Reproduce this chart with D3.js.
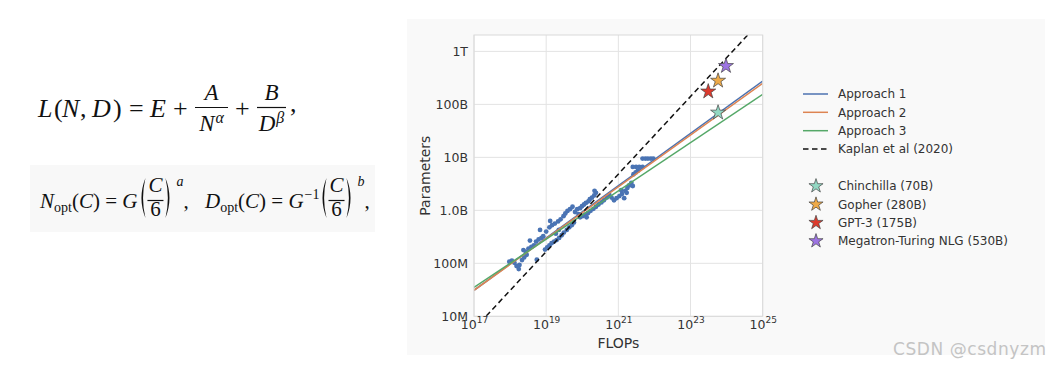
<!DOCTYPE html>
<html><head><meta charset="utf-8">
<script src="https://cdn.jsdelivr.net/npm/d3@7"></script>
<style>html,body{margin:0;padding:0;background:#fff;} svg{display:block;}</style>
</head><body>
<svg id="c" width="1051" height="367"></svg>
<script>
// ---------------- DATA ----------------
const seriesNames = ["Approach 1", "Approach 2", "Approach 3", "Kaplan et al (2020)"];
const lineFlops = [1e17, 1e25];
const approach1Params = [3.1e7, 2.75e11];
const approach2Params = [3.1e7, 2.5e11];
const approach3Params = [3.5e7, 1.55e11];
const kaplanParams = [5.7e6, 4.1e12];

const modelNames = ["Chinchilla (70B)", "Gopher (280B)", "GPT-3 (175B)", "Megatron-Turing NLG (530B)"];
const modelFlops = [5.8e23, 5.8e23, 3.1e23, 9.6e23];
const modelParams = [7.0e10, 2.8e11, 1.75e11, 5.3e11];

const yTickValues = [1e7, 1e8, 1e9, 1e10, 1e11, 1e12];
const yTickLabels = ["10M", "100M", "1.0B", "10B", "100B", "1T"];
const xTickValues = [1e17, 1e19, 1e21, 1e23, 1e25];
const xTickExponents = ["17", "19", "21", "23", "25"];

const scatterFlops = [
  9.5e17, 1.12e18, 1.32e18, 1.51e18, 1.82e18, 2.14e18, 2.45e18, 2.88e18, 1.74e18, 2.34e18,
  2.75e18, 3.24e18, 3.89e18, 4.57e18, 5.5e18, 6.76e18, 1.29e19, 3.55e18, 5.25e18, 6.17e18,
  7.41e18, 8.3e18,
  9.3e18, 1.07e19, 1.23e19, 1.41e19, 1.66e19, 1.95e19, 2.29e19, 2.69e19, 3.09e19, 3.72e19,
  4.37e19, 5.13e19, 5.89e19,
  1.23e19, 1.45e19, 1.74e19, 2.14e19, 2.51e19, 3.02e19, 3.39e19, 3.89e19, 4.57e19, 5.37e19,
  1.0e19, 1.86e19, 2.24e19,
  6.31e19, 7.24e19, 8.7e19, 9.8e19, 1.12e20, 1.26e20, 1.48e20, 1.62e20, 1.86e20, 2.14e20,
  2.4e20, 2.19e20,
  8.7e19, 1.02e20, 1.2e20, 1.45e20, 1.7e20, 2.04e20, 2.4e20, 2.82e20, 3.39e20, 3.98e20,
  4.79e20, 5.62e20, 7.9e19, 1.32e20,
  6.46e20, 7.59e20, 8.9e20, 1.07e21, 1.26e21, 1.45e21, 1.55e21, 1.78e21, 2.0e21, 2.29e21,
  2.51e21, 1.2e21, 1.7e21,
  2.63e21, 3.02e21, 3.47e21, 2.51e21, 3.09e21, 3.8e21, 4.68e21, 4.68e21, 5.62e21, 6.6e21,
  7.94e21, 9.3e21
];
const scatterParams = [
  1.07e8, 1.12e8, 1.02e8, 8.9e7, 9.3e7, 1.15e8, 1.29e8, 1.45e8, 7.8e7, 1.78e8,
  1.66e8, 1.9e8, 2.04e8, 2.19e8, 1.17e8, 4.27e8, 6.3e8, 2.69e8, 2.57e8, 2.82e8,
  3.02e8, 3.24e8,
  1.82e8, 2.0e8, 2.19e8, 2.4e8, 2.57e8, 2.75e8, 3.02e8, 3.39e8, 3.8e8, 4.27e8,
  4.79e8, 5.25e8, 5.89e8,
  4.79e8, 5.25e8, 5.62e8, 6.17e8, 6.76e8, 7.76e8, 8.71e8, 9.77e8, 1.05e9, 1.17e9,
  3.98e8, 3.63e8, 4.27e8,
  9.3e8, 1.05e9, 1.1e9, 1.2e9, 1.29e9, 1.38e9, 1.48e9, 1.62e9, 1.74e9, 1.91e9,
  2.14e9, 2.34e9,
  7.4e8, 7.76e8, 8.3e8, 8.9e8, 9.8e8, 1.07e9, 1.17e9, 1.29e9, 1.41e9, 1.55e9,
  1.74e9, 1.95e9, 8.5e8, 7.4e8,
  1.74e9, 1.55e9, 1.7e9, 1.86e9, 2.04e9, 1.7e9, 2.34e9, 2.63e9, 2.95e9, 3.31e9,
  2.88e9, 2.4e9, 2.14e9,
  4.8e9, 5.2e9, 5.6e9, 6.6e9, 6.6e9, 6.6e9, 6.6e9, 9.5e9, 9.5e9, 9.5e9,
  9.5e9, 9.5e9
];

const lineColors = ["#4c72b0", "#dd8452", "#55a868", "#111111"];
const starColors = ["#92d8c3", "#eeaa48", "#dc3a2d", "#9d74e3"];

// ---------------- DRAW ----------------
const svg = d3.select("#c");
const SERIF = "'Liberation Serif', 'DejaVu Serif', serif";
const SANS = "'DejaVu Sans', sans-serif";

// light panels
svg.append("rect").attr("x", 407).attr("y", 19).attr("width", 638).attr("height", 336).attr("fill", "#f9f9f9");
svg.append("rect").attr("x", 30).attr("y", 165).attr("width", 345).attr("height", 67).attr("fill", "#f8f8f8");

// ---- formulas ----
const fg = svg.append("g");
function rich(g, x, y, pieces, fs, anchor) {
  const t = g.append("text").attr("x", x).attr("y", y).attr("font-size", fs)
    .attr("font-family", SERIF).attr("fill", "#111").attr("text-anchor", anchor || "start");
  let cur = 0;
  pieces.forEach(p => {
    const s = t.append("tspan").text(p.t);
    if (p.it) s.attr("font-style", "italic");
    if (p.fs) s.attr("font-size", p.fs);
    const off = p.off || 0;
    if (off !== cur) { s.attr("dy", off - cur); cur = off; }
    if (p.dx) s.attr("dx", p.dx);
  });
  return t;
}
const W = t => t.node().getComputedTextLength();
function frac(g, x, numY, denY, barY, num, den, fs, minW) {
  const tn = rich(g, 0, numY, num, fs, "middle");
  const td = rich(g, 0, denY, den, fs, "middle");
  const w = Math.max(W(tn), W(td), minW || 0) + 4;
  tn.attr("x", x + w / 2); td.attr("x", x + w / 2);
  g.append("line").attr("x1", x + 1).attr("x2", x + w - 1).attr("y1", barY).attr("y2", barY)
    .attr("stroke", "#111").attr("stroke-width", 1.2);
  return x + w;
}
function paren(g, x, y0, y1, left) {
  const m = (y0 + y1) / 2;
  const p = left
    ? `M${x + 7},${y0} Q${x - 1},${m} ${x + 7},${y1} Q${x + 2.2},${m} ${x + 7},${y0}Z`
    : `M${x},${y0} Q${x + 8},${m} ${x},${y1} Q${x + 4.8},${m} ${x},${y0}Z`;
  g.append("path").attr("d", p).attr("fill", "#111");
  return x + 8;
}
function glyph(g, x, y, t, fs, it) {
  return g.append("text").attr("x", x).attr("y", y).attr("font-size", fs).attr("font-family", SERIF)
    .attr("font-style", it ? "italic" : "normal").attr("fill", "#111").text(t);
}

// Formula 1: L(N, D) = E + A/N^α + B/D^β,
glyph(fg, 38, 117, "L", 26, 1);
glyph(fg, 54, 117, "(", 26, 0);
glyph(fg, 62, 117, "N", 26, 1);
glyph(fg, 80, 117, ",", 26, 0);
glyph(fg, 92, 117, "D", 26, 1);
glyph(fg, 113, 117, ")", 26, 0);
glyph(fg, 129, 117, "=", 26, 0);
glyph(fg, 150, 117, "E", 26, 1);
glyph(fg, 173, 117, "+", 26, 0);
frac(fg, 194, 100, 131, 107.5, [{t: "A", it: 1}], [{t: "N", it: 1}, {t: "α", it: 1, fs: 16, off: -8, dx: 1}], 23, 31);
glyph(fg, 235, 117, "+", 26, 0);
frac(fg, 256, 100, 131, 107.5, [{t: "B", it: 1}], [{t: "D", it: 1}, {t: "β", it: 1, fs: 16, off: -8, dx: 1}], 23, 27);
glyph(fg, 290, 112, ",", 26, 0);

// Formula 2
let cx = 40;
let t3 = rich(fg, cx, 208, [{t: "N", it: 1}, {t: "opt", fs: 14, off: 4}, {t: "(", off: 0}, {t: "C", it: 1}, {t: ")"},
  {t: " = "}, {t: "G", it: 1}], 21);
cx += W(t3) + 1;
cx = paren(fg, cx, 178, 218, true);
cx = frac(fg, cx, 192, 216, 200.5, [{t: "C", it: 1}], [{t: "6"}], 21);
cx = paren(fg, cx + 1, 178, 218, false);
rich(fg, cx + 3, 186, [{t: "a", it: 1}], 14);
rich(fg, cx + 10, 208, [{t: ","}], 21);
cx = 205;
let t4 = rich(fg, cx, 208, [{t: "D", it: 1}, {t: "opt", fs: 14, off: 4}, {t: "(", off: 0}, {t: "C", it: 1}, {t: ")"},
  {t: " = "}, {t: "G", it: 1}, {t: "−1", fs: 14, off: -9, dx: 1}], 21);
cx += W(t4) + 1;
cx = paren(fg, cx, 178, 218, true);
cx = frac(fg, cx, 192, 216, 200.5, [{t: "C", it: 1}], [{t: "6"}], 21);
cx = paren(fg, cx + 1, 178, 218, false);
rich(fg, cx + 3, 186, [{t: "b", it: 1}], 14);
rich(fg, cx + 10, 208, [{t: ","}], 21);

// ---- chart ----
const L = 474, R = 762.7, T = 35, B = 316.3;
const x = d3.scaleLog().domain([1e17, 1e25]).range([L, R]);
const y = d3.scaleLog().domain([1e7, 2.04e12]).range([B, T]);

svg.append("rect").attr("x", L).attr("y", T).attr("width", R - L).attr("height", B - T).attr("fill", "#fff");
const grid = svg.append("g").attr("stroke", "#e3e3e3").attr("stroke-width", 1);
xTickValues.forEach(v => grid.append("line").attr("x1", x(v)).attr("x2", x(v)).attr("y1", T).attr("y2", B));
yTickValues.forEach(v => grid.append("line").attr("x1", L).attr("x2", R).attr("y1", y(v)).attr("y2", y(v)));

svg.append("clipPath").attr("id", "clip").append("rect").attr("x", L).attr("y", T).attr("width", R - L).attr("height", B - T);
const plot = svg.append("g").attr("clip-path", "url(#clip)");

plot.append("g").selectAll("circle").data(scatterFlops.map((f, i) => [f, scatterParams[i]])).join("circle")
  .attr("cx", d => x(d[0])).attr("cy", d => y(d[1])).attr("r", 2.4).attr("fill", "#4a74b4");

const lineGen = d3.line().x(d => x(d[0])).y(d => y(d[1]));
const lineSeries = [approach1Params, approach2Params, approach3Params, kaplanParams];
lineSeries.forEach((ps, i) => {
  const p = plot.append("path").datum(lineFlops.map((f, j) => [f, ps[j]])).attr("d", lineGen)
    .attr("fill", "none").attr("stroke", lineColors[i]).attr("stroke-width", 1.5);
  if (i === 3) p.attr("stroke-dasharray", "5.5,3.5");
});

const star = d3.symbol().type(d3.symbolStar).size(70);
plot.append("g").selectAll("path").data(modelFlops.map((f, i) => [f, modelParams[i], i])).join("path")
  .attr("d", star).attr("transform", d => `translate(${x(d[0])},${y(d[1])})`)
  .attr("fill", d => starColors[d[2]]).attr("stroke", "#444").attr("stroke-width", 0.7);

// border
svg.append("rect").attr("x", L).attr("y", T).attr("width", R - L).attr("height", B - T)
  .attr("fill", "none").attr("stroke", "#dadada").attr("stroke-width", 1);

// y tick labels
const yAxis = d3.axisLeft(y).tickValues(yTickValues).tickFormat((d, i) => yTickLabels[i]).tickSize(0).tickPadding(6);
const ya = svg.append("g").attr("transform", `translate(${L},0)`).call(yAxis);
ya.select(".domain").remove();
ya.selectAll("text").attr("font-family", SANS).attr("font-size", 12.5).attr("fill", "#333");

// x tick labels
const xAxis = d3.axisBottom(x).tickValues(xTickValues).tickFormat(() => "").tickSize(0);
const xa = svg.append("g").attr("transform", `translate(0,${B})`).call(xAxis);
xa.select(".domain").remove();
xa.selectAll(".tick").each(function (d, i) {
  const tx = d3.select(this).append("text").attr("y", 12.5).attr("text-anchor", "middle")
    .attr("font-family", SANS).attr("fill", "#333").attr("font-size", 12.5);
  tx.append("tspan").text("10");
  tx.append("tspan").attr("font-size", 9).attr("dy", -6).text(xTickExponents[i]);
});

// axis titles
svg.append("text").attr("x", (L + R) / 2).attr("y", 348).attr("text-anchor", "middle")
  .attr("font-family", SANS).attr("font-size", 14).attr("fill", "#333").text("FLOPs");
svg.append("text").attr("transform", `translate(430,${(T + B) / 2}) rotate(-90)`).attr("text-anchor", "middle")
  .attr("font-family", SANS).attr("font-size", 14).attr("fill", "#333").text("Parameters");

// legend
const lg = svg.append("g");
const lineRowsY = [94, 112.3, 130.7, 149];
seriesNames.forEach((n, i) => {
  const ln = lg.append("line").attr("x1", 803).attr("x2", 828).attr("y1", lineRowsY[i]).attr("y2", lineRowsY[i])
    .attr("stroke", lineColors[i]).attr("stroke-width", 1.5);
  if (i === 3) ln.attr("stroke-dasharray", "5.5,3.5");
  lg.append("text").attr("x", 838).attr("y", lineRowsY[i]).attr("dy", "0.35em")
    .attr("font-family", SANS).attr("font-size", 12).attr("fill", "#333").text(n);
});
const starRowsY = [186, 204.3, 222.7, 241];
const lstar = d3.symbol().type(d3.symbolStar).size(62);
modelNames.forEach((n, i) => {
  lg.append("path").attr("d", lstar).attr("transform", `translate(816,${starRowsY[i]})`)
    .attr("fill", starColors[i]).attr("stroke", "#444").attr("stroke-width", 0.7);
  lg.append("text").attr("x", 838).attr("y", starRowsY[i]).attr("dy", "0.35em")
    .attr("font-family", SANS).attr("font-size", 12).attr("fill", "#333").text(n);
});

// watermark
svg.append("text").attr("x", 893).attr("y", 355).attr("font-family", SANS).attr("font-size", 17)
  .attr("textLength", 153).attr("fill", "#c4c4c4").text("CSDN @csdnyzm");
</script>
</body></html>
